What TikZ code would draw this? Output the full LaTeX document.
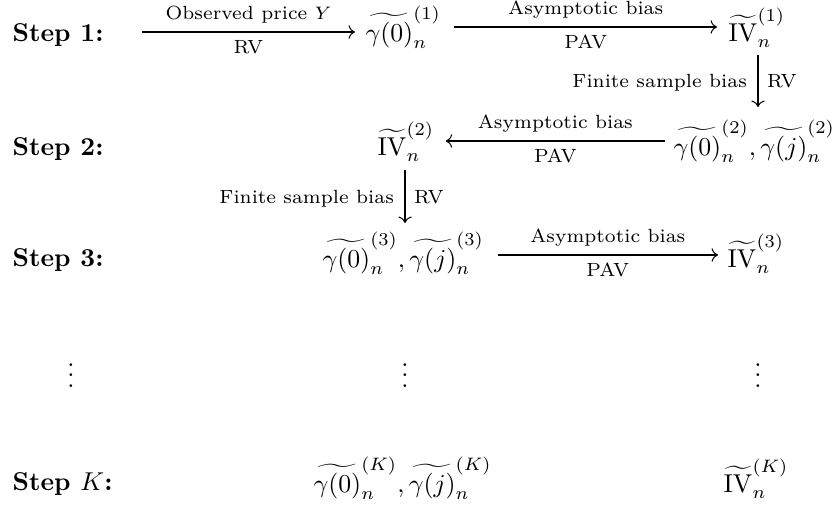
\documentclass[tikz,border=0pt]{standalone}
\usepackage{amsmath}
\usetikzlibrary{arrows.meta}
\newcommand{\labfont}{\fontsize{7.4}{9}\selectfont}
\begin{document}
\begin{tikzpicture}[x=0.3876pt,y=-0.3876pt,
  steplabel/.style={anchor=base west, inner sep=0pt, font=\bfseries},
  mathnode/.style={anchor=base west, inner sep=0pt},
  dotsnode/.style={anchor=base, inner sep=0pt},
  cdarrow/.style={-{Computer Modern Rightarrow}, line width=0.4pt},
  labup/.style={midway, anchor=base, yshift=4.9pt, font=\labfont, inner sep=0pt},
  labdown/.style={midway, anchor=base, yshift=-8.4pt, font=\labfont, inner sep=0pt},
  lableft/.style={midway, anchor=base east, xshift=-4.1pt, yshift=-2.6pt, font=\labfont, inner sep=0pt},
  labright/.style={midway, anchor=base west, xshift=3.3pt, yshift=-2.6pt, font=\labfont, inner sep=0pt}]
\useasboundingbox (0,0) rectangle (840,510);

% step labels
\node[steplabel] (st1) at (12,41) {Step 1:};
\node[steplabel] (st2) at (12,155) {Step 2:};
\node[steplabel] (st3) at (12,266) {Step 3:};
\node[steplabel] (stK) at (12,490) {Step $K$:};

% math nodes
\node[mathnode] (g1) at (365,41) {$\widetilde{\gamma(0)}_n^{(1)}$};
\node[mathnode] (iv1) at (728,41) {$\widetilde{\mathrm{IV}}_n^{(1)}$};
\node[mathnode] (iv2) at (377,155) {$\widetilde{\mathrm{IV}}_n^{(2)}$};
\node[mathnode] (p2) at (673,155) {$\widetilde{\gamma(0)}_n^{(2)},\widetilde{\gamma(j)}_n^{(2)}$};
\node[mathnode] (p3) at (322,267) {$\widetilde{\gamma(0)}_n^{(3)},\widetilde{\gamma(j)}_n^{(3)}$};
\node[mathnode] (iv3) at (727,267) {$\widetilde{\mathrm{IV}}_n^{(3)}$};
\node[mathnode] (pK) at (313,492) {$\widetilde{\gamma(0)}_n^{(K)},\widetilde{\gamma(j)}_n^{(K)}$};
\node[mathnode] (ivK) at (723,492) {$\widetilde{\mathrm{IV}}_n^{(K)}$};

% dots
\node[dotsnode] (d1) at (71,387) {$\vdots$};
\node[dotsnode] (d2) at (405,387) {$\vdots$};
\node[dotsnode] (d3) at (758,387) {$\vdots$};

% arrows
\coordinate (s1) at (142,32);
\draw[cdarrow] (s1) -- ([shift={(-10,-9)}]g1.base west)
  node[labup] {Observed price $Y$}
  node[labdown] {RV};
\draw[cdarrow] ([shift={(13,-14)}]g1.base east) -- ([shift={(-11,-14)}]iv1.base west)
  node[labup] {Asymptotic bias}
  node[labdown] {PAV};
\draw[cdarrow] ([shift={(30,14)}]iv1.base west) -- ([shift={(85,-48)}]p2.base west)
  node[lableft] {Finite sample bias}
  node[labright] {RV};
\draw[cdarrow] ([shift={(-8,-14)}]p2.base west) -- ([shift={(11,-14)}]iv2.base east)
  node[labup] {Asymptotic bias}
  node[labdown] {PAV};
\draw[cdarrow] ([shift={(28,15)}]iv2.base west) -- ([shift={(83,-44)}]p3.base west)
  node[lableft] {Finite sample bias}
  node[labright] {RV};
\draw[cdarrow] ([shift={(13,-12)}]p3.base east) -- ([shift={(-9,-12)}]iv3.base west)
  node[labup] {Asymptotic bias}
  node[labdown] {PAV};
\end{tikzpicture}
\end{document}
